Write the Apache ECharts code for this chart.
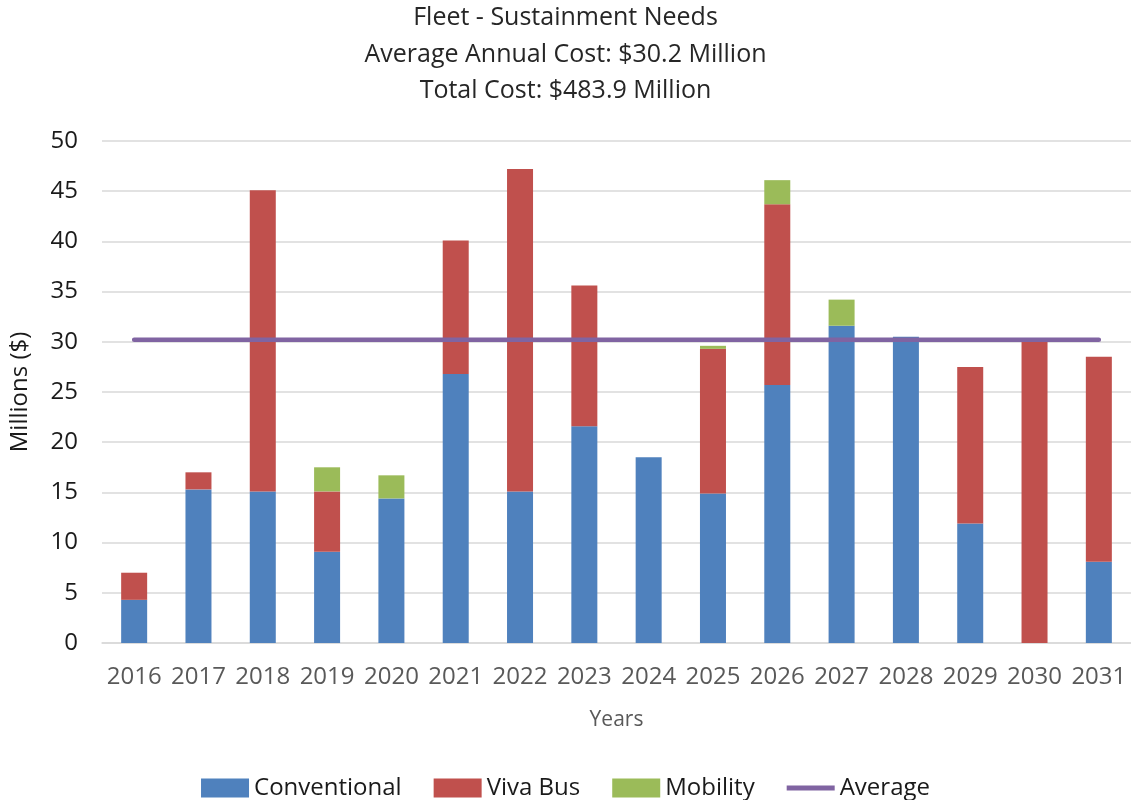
<!DOCTYPE html>
<html>
<head>
<meta charset="utf-8">
<script src="https://cdn.jsdelivr.net/npm/echarts@6/dist/echarts.min.js"></script>
<style>
  html, body { margin: 0; padding: 0; background: #fff; }
  #chartdiv { width: 1131px; height: 800px; }
</style>
</head>
<body>
<div id="chartdiv"></div>
<script>
var years = ["2016", "2017", "2018", "2019", "2020", "2021", "2022", "2023",
             "2024", "2025", "2026", "2027", "2028", "2029", "2030", "2031"];
var conventional = [4.3, 15.3, 15.1, 9.1, 14.4, 26.8, 15.1, 21.6, 18.5, 14.9, 25.7, 31.6, 30.5, 11.9, 0, 8.1];
var vivaBus = [2.7, 1.7, 30.0, 6.0, 0, 13.3, 32.1, 14.0, 0, 14.4, 18.0, 0, 0, 15.6, 30.0, 20.4];
var mobility = [0, 0, 0, 2.4, 2.3, 0, 0, 0, 0, 0.3, 2.4, 2.6, 0, 0, 0, 0];
var averageCost = 30.2;
var yTicks = [0, 5, 10, 15, 20, 25, 30, 35, 40, 45, 50];

var avgData = [];
for (var i = 0; i < years.length; i++) {
    avgData.push(averageCost);
}

var font = "'Open Sans', 'Liberation Sans', sans-serif";
var dom = document.getElementById("chartdiv");
var myChart = echarts.init(dom);

var option = {
    backgroundColor: '#fff',
    animation: false,
    title: {
        text: 'Fleet - Sustainment Needs\nAverage Annual Cost: $30.2 Million\nTotal Cost: $483.9 Million',
        left: 'center',
        top: -5,
        textStyle: {
            fontFamily: font,
            fontSize: 25,
            fontWeight: 'normal',
            color: '#262626',
            lineHeight: 36.5
        }
    },
    legend: {
        bottom: -5,
        left: 'center',
        itemWidth: 48,
        itemHeight: 19,
        itemGap: 32,
        textStyle: { fontFamily: font, fontSize: 24, color: '#1a1a1a' },
        data: [
            {name: 'Conventional', icon: 'rect'},
            {name: 'Viva Bus', icon: 'rect'},
            {name: 'Mobility', icon: 'rect'},
            {name: 'Average', icon: 'path://M0,0 L48,0 L48,5 L0,5 Z'}
        ]
    },
    grid: {
        left: 99,
        top: 141,
        width: 1034,
        height: 502,
        containLabel: false
    },
    xAxis: [
        {
            type: 'category',
            data: years,
            name: 'Years',
            nameLocation: 'middle',
            nameGap: 67,
            nameTextStyle: { fontFamily: font, fontSize: 21, color: '#595959' },
            axisLine: { show: true, lineStyle: { color: '#d9d9d9', width: 1.5 } },
            axisTick: { show: false },
            axisLabel: { fontFamily: font, fontSize: 24, color: '#595959', margin: 22, interval: 0 }
        }
    ],
    yAxis: [
        {
            type: 'value',
            min: yTicks[0],
            max: yTicks[yTicks.length - 1],
            interval: 5,
            name: 'Millions ($)',
            nameLocation: 'middle',
            nameGap: 70,
            nameRotate: 90,
            nameTextStyle: { fontFamily: font, fontSize: 24, color: '#1a1a1a' },
            axisLine: { show: false },
            axisTick: { show: false },
            axisLabel: { fontFamily: font, fontSize: 24, color: '#1a1a1a', margin: 24 },
            splitLine: { lineStyle: { color: '#d9d9d9', width: 1.5 } }
        }
    ],
    series: [
        {
            name: 'Conventional',
            type: 'bar',
            stack: 'cost',
            barWidth: 26,
            itemStyle: { color: '#4f81bd' },
            data: conventional
        },
        {
            name: 'Viva Bus',
            type: 'bar',
            stack: 'cost',
            itemStyle: { color: '#c0504d' },
            data: vivaBus
        },
        {
            name: 'Mobility',
            type: 'bar',
            stack: 'cost',
            itemStyle: { color: '#9bbb59' },
            data: mobility
        },
        {
            name: 'Average',
            type: 'line',
            symbol: 'none',
            z: 5,
            lineStyle: { color: '#8064a2', width: 4.5, cap: 'round' },
            itemStyle: { color: '#8064a2' },
            data: avgData
        }
    ]
};

myChart.setOption(option);
</script>
</body>
</html>
